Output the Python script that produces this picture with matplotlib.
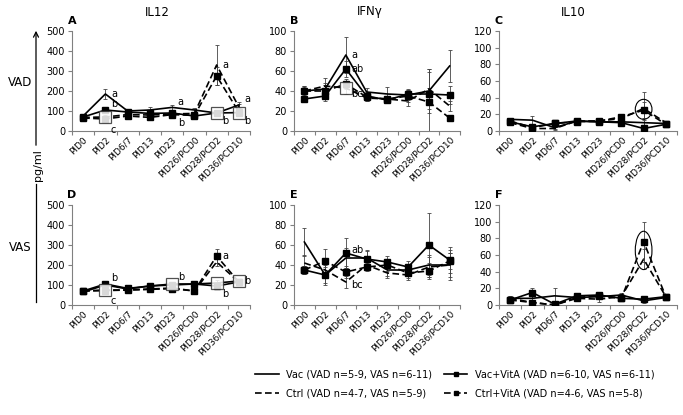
import matplotlib
matplotlib.use("Agg")
import matplotlib.pyplot as plt
from matplotlib.lines import Line2D
from matplotlib.patches import Ellipse

CATEGORIES = ["PID0", "PID2", "PID6/7", "PID13", "PID23",
              "PID26/PCD0", "PID28/PCD2", "PID36/PCD10"]

# --- IL12, VAD (A)
A_vac = [75, 185, 100, 105, 118, 105, 90, 130]
A_vac_err = [10, 25, 8, 15, 12, 10, 8, 15]
A_vacvita = [70, 105, 95, 88, 90, 75, 90, 92]
A_vacvita_err = [8, 10, 8, 10, 10, 8, 8, 10]
A_ctrl = [68, 70, 82, 80, 85, 88, 330, 120]
A_ctrl_err = [8, 8, 8, 8, 8, 8, 100, 15]
A_ctrlvita = [65, 60, 75, 68, 82, 78, 275, 95]
A_ctrlvita_err = [8, 8, 8, 8, 8, 8, 45, 10]

# --- IFNg, VAD (B)
B_vac = [40, 42, 76, 39, 37, 36, 40, 65]
B_vac_err = [5, 6, 18, 4, 7, 5, 22, 16]
B_vacvita = [32, 35, 62, 35, 31, 37, 37, 36]
B_vacvita_err = [3, 5, 8, 4, 3, 5, 6, 9]
B_ctrl = [40, 45, 43, 33, 32, 30, 42, 25]
B_ctrl_err = [4, 8, 6, 3, 3, 5, 20, 5]
B_ctrlvita = [40, 40, 47, 34, 32, 35, 29, 13]
B_ctrlvita_err = [5, 6, 5, 4, 3, 6, 30, 3]

# --- IL10, VAD (C)
C_vac = [14, 13, 4, 12, 11, 11, 10, 9]
C_vac_err = [2, 5, 2, 2, 2, 2, 3, 2]
C_vacvita = [11, 5, 9, 12, 11, 10, 3, 8]
C_vacvita_err = [2, 3, 2, 2, 2, 2, 2, 2]
C_ctrl = [10, 3, 3, 12, 12, 15, 27, 10]
C_ctrl_err = [2, 2, 2, 2, 2, 3, 20, 2]
C_ctrlvita = [12, 4, 9, 11, 12, 17, 25, 8]
C_ctrlvita_err = [2, 2, 2, 2, 2, 3, 10, 2]

# --- IL12, VAS (D)
D_vac = [65, 100, 80, 95, 105, 105, 110, 120]
D_vac_err = [8, 10, 8, 10, 10, 10, 15, 10]
D_vacvita = [70, 105, 83, 95, 100, 105, 95, 115]
D_vacvita_err = [8, 10, 8, 10, 10, 10, 10, 10]
D_ctrl = [70, 75, 75, 80, 85, 70, 215, 115]
D_ctrl_err = [8, 8, 8, 8, 8, 8, 20, 10]
D_ctrlvita = [70, 72, 75, 78, 82, 70, 245, 115]
D_ctrlvita_err = [8, 8, 8, 8, 8, 8, 35, 10]

# --- IFNg, VAS (E)
E_vac = [63, 30, 47, 47, 35, 35, 40, 40]
E_vac_err = [14, 8, 10, 8, 6, 6, 10, 15]
E_vacvita = [35, 30, 52, 46, 43, 38, 60, 45]
E_vacvita_err = [4, 10, 15, 8, 6, 6, 32, 13]
E_ctrl = [42, 35, 23, 40, 32, 30, 38, 40]
E_ctrl_err = [8, 6, 6, 5, 5, 5, 10, 12]
E_ctrlvita = [35, 44, 33, 38, 40, 32, 34, 44]
E_ctrlvita_err = [4, 12, 6, 4, 6, 5, 8, 8]

# --- IL10, VAS (F)
F_vac = [8, 8, 11, 9, 10, 12, 5, 9]
F_vac_err = [3, 3, 9, 3, 3, 3, 3, 2]
F_vacvita = [6, 15, 1, 11, 12, 8, 7, 10]
F_vacvita_err = [2, 6, 2, 3, 2, 3, 2, 2]
F_ctrl = [8, 3, 0, 8, 7, 10, 55, 10]
F_ctrl_err = [3, 2, 1, 3, 3, 3, 12, 2]
F_ctrlvita = [6, 3, 0, 9, 11, 8, 76, 10]
F_ctrlvita_err = [2, 2, 1, 2, 2, 2, 24, 2]

# open boxes marking single groups: (series, index)
A_boxes = [("ctrl", 1), ("vac", 6), ("vacvita", 7)]
B_boxes = [("ctrl", 2)]
D_boxes = [("ctrl", 1), ("vac", 4), ("vac", 6), ("vac", 7)]
E_boxes = []

# significance letters: (series, index, text, vertical nudge in points)
A_letters = [("vac", 1, "a", 0), ("vacvita", 1, "b", 4), ("ctrlvita", 1, "c", -8),
             ("vac", 4, "a", 4), ("ctrlvita", 4, "b", -6), ("vacvita", 6, "b", -6),
             ("ctrl", 6, "a", 0), ("vac", 7, "a", 4), ("vacvita", 7, "b", -6)]
B_letters = [("vac", 2, "a", 0), ("vacvita", 2, "ab", 0), ("ctrl", 2, "bc", -4)]
D_letters = [("vacvita", 1, "b", 4), ("ctrl", 1, "c", -8), ("vac", 4, "b", 5),
             ("ctrlvita", 6, "a", 0), ("vacvita", 6, "b", -6), ("vac", 7, "b", 0)]
E_letters = [("vacvita", 2, "ab", 2), ("ctrl", 2, "bc", -2)]

STYLES = {
    "vac": dict(ls="-", marker=None),
    "vacvita": dict(ls="-", marker="s"),
    "ctrl": dict(ls=(0, (4, 2)), marker=None),
    "ctrlvita": dict(ls=(0, (4, 2)), marker="s"),
}
GREY = "#808080"


def draw_panel(ax, letter, series, errs, ymax, ystep, boxes=(), letters=(),
               ellipse=None):
    x = list(range(len(CATEGORIES)))
    for key in ["ctrl", "ctrlvita", "vac", "vacvita"]:
        st = STYLES[key]
        ax.errorbar(x, series[key], yerr=errs[key], fmt="none", ecolor="#444444",
                    elinewidth=0.6, capsize=1.6, capthick=0.6, zorder=2)
        ax.plot(x, series[key], color="black", lw=1.2, ls=st["ls"],
                marker=st["marker"], ms=5, mfc="black", mec="black", zorder=3)
    for key, i in boxes:
        ax.plot(i, series[key][i], marker="s", ms=8, mfc="white", mec="#333333",
                mew=0.9, zorder=4, alpha=0.85)
    for key, i, txt, dy in letters:
        ax.annotate(txt, (i, series[key][i]), xytext=(4, dy),
                    textcoords="offset points", fontsize=7, va="center",
                    ha="left", zorder=5)
    if ellipse is not None:
        i, h = ellipse
        yc = (series["ctrl"][i] + series["ctrlvita"][i]) / 2
        ax.add_patch(Ellipse((i, yc), 0.75, h, fill=False,
                             ec="black", lw=0.8, zorder=5))
    ax.set_xlim(-0.5, len(CATEGORIES) - 0.5)
    ax.set_ylim(0, ymax)
    ax.set_yticks(range(0, ymax + 1, ystep))
    ax.set_xticks(x)
    ax.set_xticklabels(CATEGORIES, rotation=45, ha="right",
                       rotation_mode="anchor", fontsize=6.5)
    ax.set_xticks([i - 0.5 for i in range(len(CATEGORIES) + 1)], minor=True)
    ax.tick_params(axis="x", which="major", length=0, pad=3)
    ax.tick_params(axis="x", which="minor", length=3, color=GREY, width=0.8)
    ax.tick_params(axis="y", length=3, color=GREY, width=0.8, labelsize=7,
                   pad=2)
    for side in ["top", "right"]:
        ax.spines[side].set_visible(False)
    for side in ["left", "bottom"]:
        ax.spines[side].set_color(GREY)
        ax.spines[side].set_linewidth(0.8)
    ax.text(0.0, 1.05, letter, transform=ax.transAxes, fontsize=8,
            fontweight="bold", ha="center", va="bottom")


fig = plt.figure(figsize=(6.83, 4.15), dpi=100)
top_b, top_h = 1 - 131 / 415, 100 / 415
bot_b, bot_h = 1 - 305 / 415, 100 / 415
cols = [(72 / 683, 178 / 683), (294 / 683, 166 / 683), (499 / 683, 178 / 683)]

panels = [
    ("A", (A_vac, A_vacvita, A_ctrl, A_ctrlvita),
     (A_vac_err, A_vacvita_err, A_ctrl_err, A_ctrlvita_err), 500, 100,
     A_boxes, A_letters, None),
    ("B", (B_vac, B_vacvita, B_ctrl, B_ctrlvita),
     (B_vac_err, B_vacvita_err, B_ctrl_err, B_ctrlvita_err), 100, 20,
     B_boxes, B_letters, None),
    ("C", (C_vac, C_vacvita, C_ctrl, C_ctrlvita),
     (C_vac_err, C_vacvita_err, C_ctrl_err, C_ctrlvita_err), 120, 20,
     [], [], (6, 24)),
    ("D", (D_vac, D_vacvita, D_ctrl, D_ctrlvita),
     (D_vac_err, D_vacvita_err, D_ctrl_err, D_ctrlvita_err), 500, 100,
     D_boxes, D_letters, None),
    ("E", (E_vac, E_vacvita, E_ctrl, E_ctrlvita),
     (E_vac_err, E_vacvita_err, E_ctrl_err, E_ctrlvita_err), 100, 20,
     E_boxes, E_letters, None),
    ("F", (F_vac, F_vacvita, F_ctrl, F_ctrlvita),
     (F_vac_err, F_vacvita_err, F_ctrl_err, F_ctrlvita_err), 120, 20,
     [], [], (6, 46)),
]

keys = ["vac", "vacvita", "ctrl", "ctrlvita"]
for n, (letter, ser, err, ymax, ystep, boxes, letters, ell) in enumerate(panels):
    left, width = cols[n % 3]
    bottom, height = (top_b, top_h) if n < 3 else (bot_b, bot_h)
    ax = fig.add_axes([left, bottom, width, height])
    draw_panel(ax, letter, dict(zip(keys, ser)), dict(zip(keys, err)),
               ymax, ystep, boxes, letters, ell)

# column titles
for title, xc in [("IL12", 157), ("IFNγ", 370), ("IL10", 573)]:
    fig.text(xc / 683, 1 - 12 / 415, title, fontsize=8.5, ha="center",
             va="center")

# row labels and the pg/ml arrow on the left
fig.text(20 / 683, 1 - 82 / 415, "VAD", fontsize=8.5, ha="center", va="center")
fig.text(20 / 683, 1 - 247 / 415, "VAS", fontsize=8.5, ha="center", va="center")
fig.text(38 / 683, 1 - 165 / 415, "pg/ml", fontsize=8, rotation=90,
         ha="center", va="center")
fig.add_artist(matplotlib.patches.FancyArrowPatch(
    (36 / 683, 1 - 148 / 415), (36 / 683, 1 - 28 / 415),
    transform=fig.transFigure, arrowstyle="->", mutation_scale=9,
    color="black", lw=0.9))
fig.add_artist(Line2D([36 / 683, 36 / 683], [1 - 184 / 415, 1 - 302 / 415],
                      transform=fig.transFigure, color="black", lw=0.9))

handles = [
    Line2D([], [], color="black", lw=1.2, ls="-"),
    Line2D([], [], color="black", lw=1.2, ls=(0, (4, 2))),
    Line2D([], [], color="black", lw=1.2, ls="-", marker="s", ms=3.5),
    Line2D([], [], color="black", lw=1.2, ls=(0, (4, 2)), marker="s", ms=3.5),
]
labels = [
    "Vac (VAD n=5-9, VAS n=6-11)",
    "Ctrl (VAD n=4-7, VAS n=5-9)",
    "Vac+VitA (VAD n=6-10, VAS n=6-11)",
    "Ctrl+VitA (VAD n=4-6, VAS n=5-8)",
]
fig.legend(handles, labels, ncol=2, loc="center", fontsize=7,
           bbox_to_anchor=(455 / 683, 1 - 384 / 415), frameon=False,
           handlelength=2.4, columnspacing=1.2, labelspacing=0.9)

fig.savefig("out.png", dpi=100)
